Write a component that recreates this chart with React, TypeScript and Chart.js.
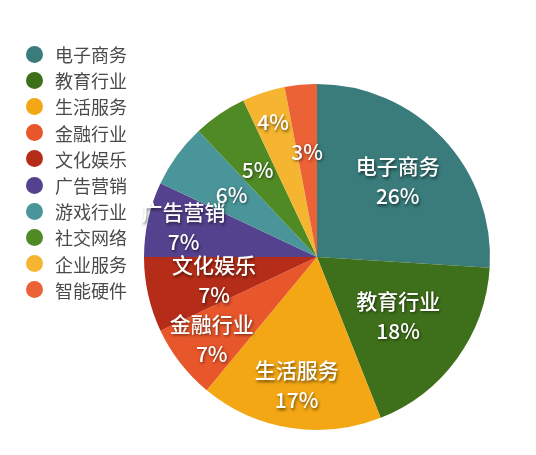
import { useEffect, useRef } from "react";
import Chart from "chart.js/auto";

const CATEGORIES = ["电子商务", "教育行业", "生活服务", "金融行业", "文化娱乐", "广告营销", "游戏行业", "社交网络", "企业服务", "智能硬件"];
const SHARES = [26, 18, 17, 7, 7, 7, 6, 5, 4, 3];
const COLORS = ["#3a7b7b", "#3e6f1a", "#f3a714", "#e8562b", "#b52d18", "#55428f", "#4a9599", "#4f8a24", "#f5b530", "#ea6235"];
// which slices show their name inside, and how far out (fraction of radius) the label sits
const SHOW_NAME = [true, true, true, true, true, true, false, false, false, false];
const LABEL_RADIUS = [0.64, 0.58, 0.75, 0.77, 0.61, 0.79, 0.61, 0.61, 0.82, 0.61];

const FONT = '"Noto Sans CJK SC", "Noto Sans", sans-serif';

const sliceLabels = {
  id: "sliceLabels",
  afterDatasetsDraw(chart: Chart) {
    const ctx = chart.ctx;
    const meta = chart.getDatasetMeta(0);
    ctx.save();
    ctx.textAlign = "center";
    ctx.textBaseline = "middle";
    ctx.fillStyle = "#ffffff";
    ctx.shadowColor = "rgba(0,0,0,0.55)";
    ctx.shadowBlur = 3;
    ctx.shadowOffsetX = 1;
    ctx.shadowOffsetY = 1.5;
    meta.data.forEach((arc: any, i: number) => {
      const { x, y, startAngle, endAngle, outerRadius } = arc.getProps(["x", "y", "startAngle", "endAngle", "outerRadius"], true);
      const mid = (startAngle + endAngle) / 2;
      const r = outerRadius * LABEL_RADIUS[i];
      const lx = x + Math.cos(mid) * r;
      const ly = y + Math.sin(mid) * r;
      ctx.font = `500 21px ${FONT}`;
      if (SHOW_NAME[i]) {
        ctx.fillText(CATEGORIES[i], lx, ly - 15);
        ctx.fillText(SHARES[i] + "%", lx, ly + 15);
      } else {
        ctx.fillText(SHARES[i] + "%", lx, ly);
      }
    });
    ctx.restore();
  },
};

export default function App() {
  const canvasRef = useRef<HTMLCanvasElement>(null);
  const chartRef = useRef<Chart | null>(null);

  useEffect(() => {
    document.body.style.margin = "0";
    if (!canvasRef.current) return;
    if (chartRef.current) chartRef.current.destroy();

    chartRef.current = new Chart(canvasRef.current, {
      type: "pie",
      data: {
        labels: CATEGORIES,
        datasets: [{
          data: SHARES,
          backgroundColor: COLORS,
          borderWidth: 0,
        }],
      },
      options: {
        responsive: false,
        animation: false,
        layout: { padding: { left: 144, right: 46, top: 84, bottom: 25 } },
        plugins: {
          legend: { display: false },
          tooltip: { enabled: false },
        },
      },
      plugins: [sliceLabels],
    });

    return () => { chartRef.current?.destroy(); };
  }, []);

  return (
    <div style={{ position: "relative", width: 536, height: 455, background: "#fff", fontFamily: FONT }}>
      <canvas ref={canvasRef} width={536} height={455} style={{ position: "absolute", left: 0, top: 0 }} />
      <div style={{ position: "absolute", left: 26, top: 41 }}>
        {CATEGORIES.map((c, i) => (
          <div key={c} style={{ display: "flex", alignItems: "center", height: 26.2 }}>
            <span style={{ width: 17, height: 17, borderRadius: "50%", background: COLORS[i], display: "inline-block" }} />
            <span style={{ marginLeft: 12, fontSize: 18, color: "#4a4a4a", lineHeight: "26px" }}>{c}</span>
          </div>
        ))}
      </div>
    </div>
  );
}
